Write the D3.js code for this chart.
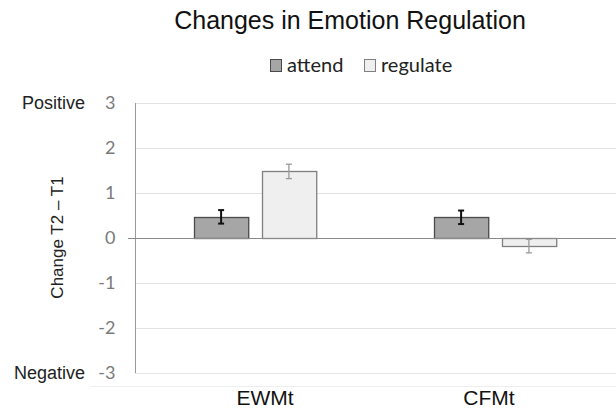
<!DOCTYPE html>
<html>
<head>
<meta charset="utf-8">
<script src="https://cdn.jsdelivr.net/npm/d3@7"></script>
<style>
  body { margin: 0; background: #fff; }
  svg { display: block; font-family: "Liberation Sans", Arial, sans-serif; }
</style>
</head>
<body>
<div id="chart"></div>
<script>
// data
var categories = ["EWMt", "CFMt"];
var series = ["attend", "regulate"];
var means = {
    attend:   [0.47, 0.46],
    regulate: [1.48, -0.18]
};
var errors = {
    attend:   [0.15, 0.15],
    regulate: [0.16, 0.15]
};
var yTicks = [-3, -2, -1, 0, 1, 2, 3];

var fills = { attend: "#a6a6a6", regulate: "#efefef" };
var strokes = { attend: "#4a4a4a", regulate: "#7f7f7f" };
var errColors = { attend: "#111", regulate: "#999" };

var width = 616, height = 411;

var svg = d3.select("#chart").append("svg")
    .attr("width", width)
    .attr("height", height);

// scales
var x0 = d3.scaleBand()
    .domain(categories)
    .range([135, 615]);

var x1 = d3.scaleBand()
    .domain(series)
    .range([0, x0.bandwidth()])
    .paddingInner(0.2)
    .paddingOuter(0.87);

var y = d3.scaleLinear()
    .domain([-3, 3])
    .range([373, 103]);

// faint bottom line
svg.append("line")
    .attr("x1", 90).attr("x2", width)
    .attr("y1", 386.5).attr("y2", 386.5)
    .attr("stroke", "#eeeeee");

// gridlines
svg.append("g")
    .selectAll("line")
    .data(yTicks.filter(function(d){ return d != 0 && d != -3; }))
    .join("line")
    .attr("x1", x0.range()[0]).attr("x2", width)
    .attr("y1", function(d){ return Math.round(y(d)) + 0.5; })
    .attr("y2", function(d){ return Math.round(y(d)) + 0.5; })
    .attr("stroke", "#e2e2e2");

// bottom border line of plot
svg.append("line")
    .attr("x1", x0.range()[0]).attr("x2", width)
    .attr("y1", Math.round(y(-3)) + 0.5).attr("y2", Math.round(y(-3)) + 0.5)
    .attr("stroke", "#e6e6e6");

// y axis
var yAxis = d3.axisLeft(y)
    .tickValues(yTicks)
    .tickSize(0)
    .tickPadding(20)
    .tickFormat(function(d){ return String(d); });

var yg = svg.append("g")
    .attr("transform", "translate(" + (x0.range()[0] + 0.5) + ",0)")
    .call(yAxis);
yg.select(".domain").attr("stroke", "#999").attr("d", "M0," + y(3) + "V" + y(-3));
yg.selectAll("text")
    .attr("fill", "#7a7a7a")
    .style("font-size", "18px")
    .style("font-family", "Lato, 'Open Sans', sans-serif");

svg.append("text")
    .attr("x", 85).attr("y", y(3))
    .attr("dy", "0.36em")
    .attr("text-anchor", "end")
    .attr("fill", "#222")
    .style("font-size", "18px")
    .text("Positive");

svg.append("text")
    .attr("x", 85).attr("y", y(-3))
    .attr("dy", "0.36em")
    .attr("text-anchor", "end")
    .attr("fill", "#222")
    .style("font-size", "18px")
    .text("Negative");

svg.append("text")
    .attr("transform", "translate(63,237.5) rotate(-90)")
    .attr("text-anchor", "middle")
    .attr("fill", "#222")
    .style("font-size", "17px")
    .text("Change T2 \u2013 T1");

// bars
var rows = [];
categories.forEach(function(c, i) {
    series.forEach(function(s) {
        rows.push({ cat: c, key: s, value: means[s][i], err: errors[s][i] });
    });
});

var groups = svg.append("g")
    .selectAll("g")
    .data(categories)
    .join("g")
    .attr("transform", function(d){ return "translate(" + x0(d) + ",0)"; });

groups.selectAll("rect")
    .data(function(c){ return rows.filter(function(r){ return r.cat == c; }); })
    .join("rect")
    .attr("x", function(d){ return Math.round(x1(d.key)) + 0.5; })
    .attr("width", x1.bandwidth())
    .attr("y", function(d){ return Math.round(y(Math.max(0, d.value))) + 0.5; })
    .attr("height", function(d){ return Math.abs(Math.round(y(d.value)) - Math.round(y(0))); })
    .attr("fill", function(d){ return fills[d.key]; })
    .attr("stroke", function(d){ return strokes[d.key]; })
    .attr("stroke-width", 1.3);

// zero line
svg.append("line")
    .attr("x1", 128).attr("x2", width)
    .attr("y1", Math.round(y(0)) + 0.5).attr("y2", Math.round(y(0)) + 0.5)
    .attr("stroke", "#8a8a8a")
    .attr("stroke-width", 1.2);

// error bars
var eb = groups.selectAll("g.err")
    .data(function(c){ return rows.filter(function(r){ return r.cat == c; }); })
    .join("g")
    .attr("class", "err")
    .attr("stroke", function(d){ return errColors[d.key]; })
    .attr("stroke-width", function(d){ return d.key == "attend" ? 2 : 1.3; });

eb.append("line")
    .attr("x1", function(d){ return x1(d.key) + x1.bandwidth() / 2; })
    .attr("x2", function(d){ return x1(d.key) + x1.bandwidth() / 2; })
    .attr("y1", function(d){ return y(d.value + d.err); })
    .attr("y2", function(d){ return y(d.value - d.err); });

eb.selectAll("line.cap")
    .data(function(d){ return [d.value + d.err, d.value - d.err].map(function(v){ return { key: d.key, v: v }; }); })
    .join("line")
    .attr("class", "cap")
    .attr("x1", function(d){ return x1(d.key) + x1.bandwidth() / 2 - 3; })
    .attr("x2", function(d){ return x1(d.key) + x1.bandwidth() / 2 + 3; })
    .attr("y1", function(d){ return y(d.v); })
    .attr("y2", function(d){ return y(d.v); });

// category labels
svg.append("g")
    .selectAll("text")
    .data(categories)
    .join("text")
    .attr("x", function(d){ return x0(d) + x0.bandwidth() / 2 + (d == "EWMt" ? 10 : -6); })
    .attr("y", 405)
    .attr("text-anchor", "middle")
    .attr("fill", "#111")
    .style("font-size", "21px")
    .text(function(d){ return d; });

// title
svg.append("text")
    .attr("x", 350).attr("y", 29)
    .attr("text-anchor", "middle")
    .attr("fill", "#111")
    .style("font-size", "25px")
    .text("Changes in Emotion Regulation");

// legend
var legendX = { attend: 270, regulate: 364 };
var legend = svg.append("g")
    .selectAll("g")
    .data(series)
    .join("g")
    .attr("transform", function(d){ return "translate(" + legendX[d] + ",59)"; });

legend.append("rect")
    .attr("x", 0.5).attr("y", 0.5)
    .attr("width", 11).attr("height", 12)
    .attr("fill", function(d){ return fills[d]; })
    .attr("stroke", function(d){ return strokes[d]; });

legend.append("text")
    .attr("x", 17).attr("y", 12.5)
    .attr("fill", "#222")
    .style("font-family", "Lato, 'Open Sans', sans-serif")
    .style("font-size", "20px")
    .text(function(d){ return d; });
</script>
</body>
</html>
